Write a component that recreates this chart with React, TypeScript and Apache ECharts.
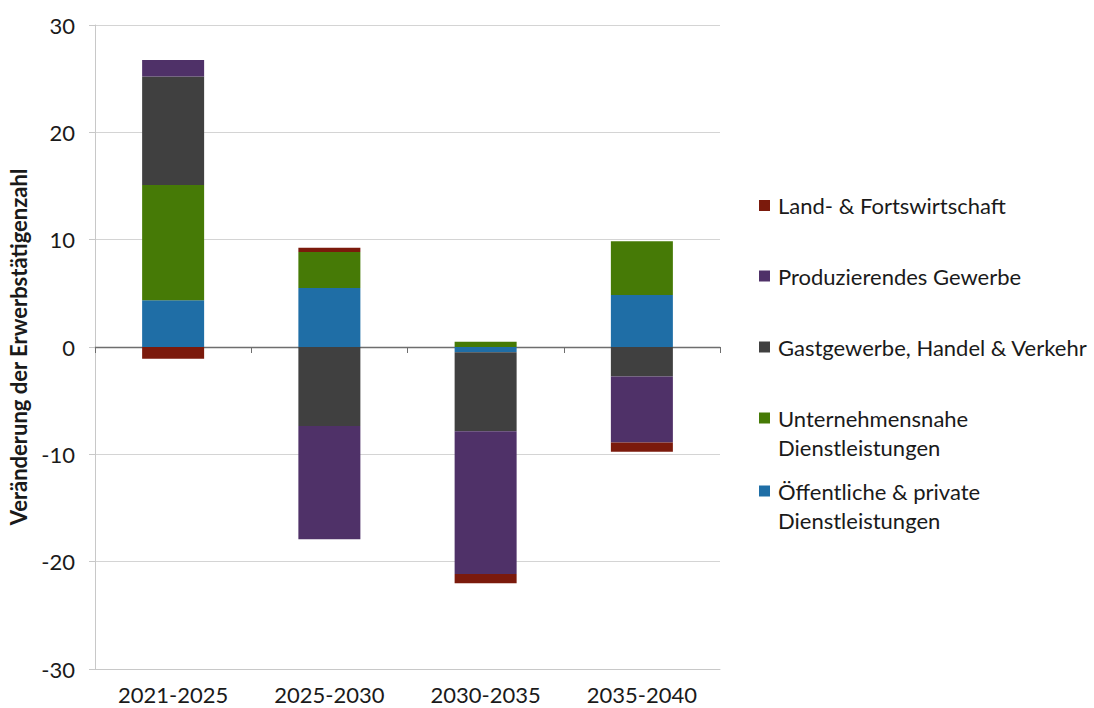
import React, { useEffect, useRef } from "react";
import * as echarts from "echarts";

const categories = ["2021-2025", "2025-2030", "2030-2035", "2035-2040"];

const seriesNames = [
  "Öffentliche & private\nDienstleistungen",
  "Unternehmensnahe\nDienstleistungen",
  "Gastgewerbe, Handel & Verkehr",
  "Produzierendes Gewerbe",
  "Land- & Fortswirtschaft",
];
const seriesColors = ["#1F6EA6", "#467A06", "#404040", "#4F3168", "#7B1A0C"];

const oeffentliche = [4.35, 5.5, -0.5, 4.85];
const unternehmensnahe = [10.75, 3.35, 0.5, 5.0];
const gastgewerbe = [10.1, -7.35, -7.35, -2.75];
const produzierendes = [1.55, -10.55, -13.3, -6.15];
const land = [-1.1, 0.4, -0.85, -0.85];

const seriesValues = [oeffentliche, unternehmensnahe, gastgewerbe, produzierendes, land];

const yTicks = { min: -30, max: 30, interval: 10 };

const FONT = "Lato";
const FS = 22;

export default function App() {
  const ref = useRef<HTMLDivElement>(null);
  useEffect(() => {
    if (!ref.current) return;
    const chart = echarts.init(ref.current, undefined, { renderer: "svg" });

    // legend order top-to-bottom (reverse of series order)
    const legendOrder = [4, 3, 2, 1, 0];
    const legendCenters = [205.5, 276, 347, 418, 491];
    const legends = legendOrder.map((si, k) => {
      const twoLine = seriesNames[si].includes("\n");
      return {
        orient: "vertical",
        left: 759,
        top: twoLine ? legendCenters[k] - 43.5 : legendCenters[k] - 14.5,
        padding: 0,
        itemWidth: 11,
        itemHeight: 11,
        icon: "rect",
        selectedMode: false,
        data: [seriesNames[si]],
        formatter: (name: string) => (name.includes("\n") ? " \n" + name : name),
        textStyle: {
          fontFamily: FONT,
          fontSize: FS,
          lineHeight: 29,
          color: "#1a1a1a",
          padding: [0, 0, 0, 3],
        },
      };
    });

    chart.setOption({
      animation: false,
      backgroundColor: "#ffffff",
      textStyle: { fontFamily: FONT },
      grid: {
        left: 95,
        right: 374,
        top: 25,
        bottom: 39,
        containLabel: false,
        outerBoundsMode: "none",
      },
      legend: legends,
      xAxis: [
        {
          type: "category",
          data: categories,
          position: "bottom",
          axisLine: { onZero: false, lineStyle: { color: "#c8c8c8", width: 1 } },
          axisTick: { show: false },
          axisLabel: {
            fontFamily: FONT,
            fontSize: FS,
            lineHeight: 18,
            color: "#1a1a1a",
            margin: 16,
          },
          splitLine: { show: false },
        },
        {
          type: "category",
          data: categories,
          position: "top",
          axisLine: { onZero: true, lineStyle: { color: "#6e6e6e", width: 1.4 } },
          axisTick: { show: true, inside: true, length: 6, lineStyle: { color: "#6e6e6e" } },
          axisLabel: { show: false },
          splitLine: { show: false },
        },
      ],
      yAxis: {
        type: "value",
        min: yTicks.min,
        max: yTicks.max,
        interval: yTicks.interval,
        name: "Veränderung der Erwerbstätigenzahl",
        nameLocation: "middle",
        nameGap: 66,
        nameTextStyle: { fontFamily: FONT, fontSize: 22, fontWeight: "bold", color: "#1a1a1a" },
        axisLine: { show: true, lineStyle: { color: "#c8c8c8" } },
        axisTick: { show: true, length: 6, lineStyle: { color: "#c8c8c8" } },
        axisLabel: { fontFamily: FONT, fontSize: FS, color: "#1a1a1a", margin: 20 },
        splitLine: { show: true, lineStyle: { color: "#d4d4d4", width: 1 } },
      },
      series: seriesNames.map((name, i) => ({
        name,
        type: "bar",
        stack: "total",
        xAxisIndex: 0,
        barWidth: 62,
        itemStyle: { color: seriesColors[i] },
        data: seriesValues[i],
      })),
    });
    return () => chart.dispose();
  }, []);
  return (
    <div
      ref={ref}
      style={{ position: "fixed", left: 0, top: 0, width: 1094, height: 708 }}
    />
  );
}
